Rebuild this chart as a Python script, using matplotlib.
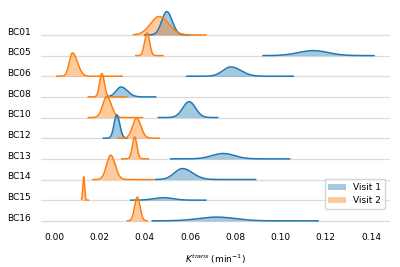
import numpy as np
import matplotlib.pyplot as plt
from matplotlib.patches import Patch

rows = ['BC01', 'BC05', 'BC06', 'BC08', 'BC10', 'BC12', 'BC13', 'BC14', 'BC15', 'BC16']

# Visit 1: peak location, left/right spread, peak height (row units), support
mu1 = [0.0497, 0.1145, 0.0780, 0.0295, 0.0596, 0.0276, 0.0747, 0.0566, 0.0482, 0.0718]
sdl1 = [0.0022, 0.0066, 0.0035, 0.0022, 0.0028, 0.0012, 0.0050, 0.0035, 0.0043, 0.0081]
sdr1 = [0.0024, 0.0066, 0.0045, 0.0028, 0.0028, 0.0013, 0.0050, 0.0045, 0.0043, 0.0081]
h1 = [1.13, 0.24, 0.45, 0.48, 0.77, 1.13, 0.26, 0.53, 0.12, 0.18]
lo1 = [0.040, 0.0923, 0.0585, 0.023, 0.046, 0.0217, 0.0514, 0.0446, 0.0338, 0.0433]
hi1 = [0.060, 0.1413, 0.1056, 0.0448, 0.0722, 0.032, 0.104, 0.089, 0.067, 0.1166]

# Visit 2
mu2 = [0.0463, 0.0410, 0.0080, 0.0210, 0.0232, 0.0364, 0.0355, 0.0249, 0.0130, 0.0367]
sdl2 = [0.0038, 0.0011, 0.0014, 0.0010, 0.0018, 0.0018, 0.0010, 0.0018, 0.0004, 0.0012]
sdr2 = [0.0042, 0.0011, 0.0022, 0.0011, 0.0020, 0.0019, 0.0010, 0.0020, 0.0004, 0.0012]
h2 = [0.89, 1.10, 1.13, 1.13, 1.02, 0.97, 1.06, 1.18, 1.13, 1.15]
lo2 = [0.035, 0.036, 0.001, 0.015, 0.015, 0.0283, 0.0298, 0.017, 0.012, 0.0323]
hi2 = [0.067, 0.048, 0.030, 0.032, 0.039, 0.0464, 0.0416, 0.0437, 0.015, 0.041]


def ridge(mu, sdl, sdr, h, lo, hi):
    x = np.linspace(lo, hi, 300)
    sd = np.where(x < mu, sdl, sdr)
    return x, h * np.exp(-0.5 * ((x - mu) / sd) ** 2)


fig = plt.figure(figsize=(4, 2.67), dpi=100)
ax = fig.add_axes([0.1025, 0.1536, 0.8725, 0.82])

for i, name in enumerate(rows):
    base = -i
    ax.axhline(base, color='#dcdcdc', lw=0.9, zorder=1 + 3 * i)
    for c, (m, sl, sr, hh, a, b) in [
        ('C0', (mu1[i], sdl1[i], sdr1[i], h1[i], lo1[i], hi1[i])),
        ('C1', (mu2[i], sdl2[i], sdr2[i], h2[i], lo2[i], hi2[i])),
    ]:
        x, y = ridge(m, sl, sr, hh, a, b)
        ax.fill_between(x, base, base + y, color=c, alpha=0.4, lw=0, zorder=2 + 3 * i)
        ax.plot(x, base + y, color=c, lw=1.1, zorder=3 + 3 * i)
    ax.text(-0.03, base + 0.13, name, transform=ax.get_yaxis_transform(),
            ha='right', va='center', fontsize=6.5)

ax.set_xlim(-0.0059, 0.1484)
ax.set_ylim(-9.25, 1.35)
ax.set_yticks([])
ax.set_xticks(np.arange(0, 0.141, 0.02))
ax.tick_params(axis='x', length=0, pad=5, labelsize=6.5)
for s in ax.spines.values():
    s.set_visible(False)
ax.set_xlabel('$K^{trans}$ (min$^{-1}$)', fontsize=6.5, labelpad=8)

handles = [Patch(facecolor='C0', alpha=0.4, label='Visit 1'),
           Patch(facecolor='C1', alpha=0.4, label='Visit 2')]
leg = ax.legend(handles=handles, loc='lower right', bbox_to_anchor=(0.9857, 0.0776),
                borderaxespad=0, fontsize=6.5)
leg.set_zorder(100)

fig.savefig('out.png', dpi=100)
